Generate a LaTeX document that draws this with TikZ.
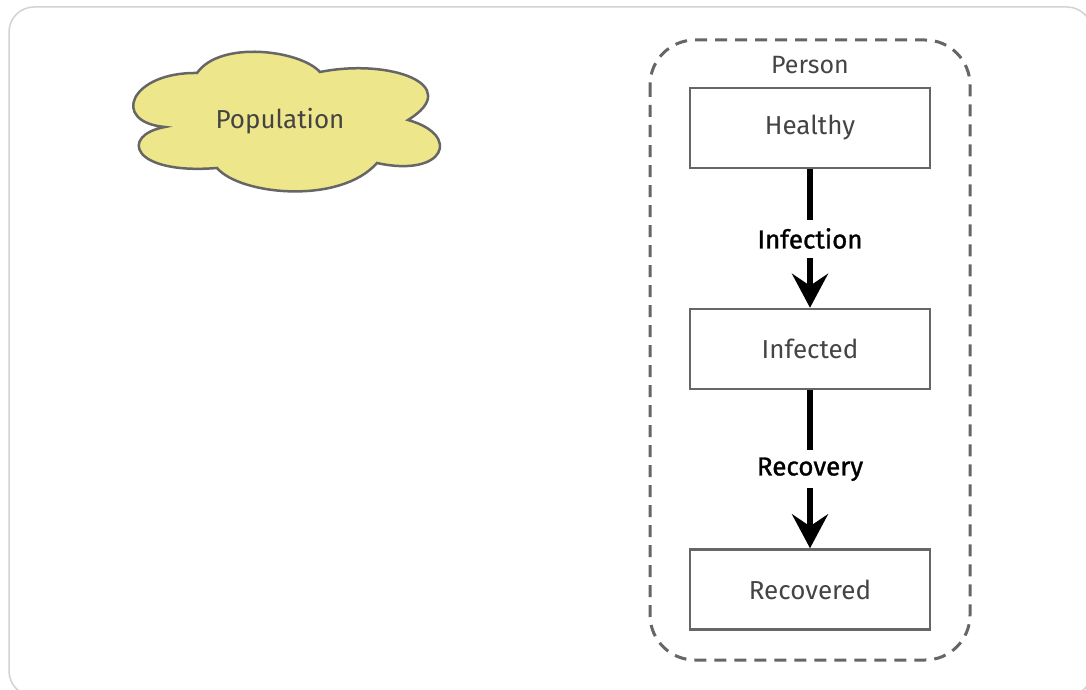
\documentclass[tikz,border=0pt]{standalone}
\usepackage{fontspec}
\setmainfont{Fira Sans}
\newfontfamily\lblfont[FakeBold=1.2]{Fira Sans}
\usetikzlibrary{arrows.meta}
\definecolor{cloudfill}{HTML}{EEE68A}
\definecolor{edgegray}{HTML}{666666}
\definecolor{textgray}{HTML}{444444}
\definecolor{framegray}{HTML}{D2D2D2}
\tikzset{
  statebox/.style={draw=edgegray, line width=2.5pt, fill=white, minimum width=240pt, minimum height=80pt, inner sep=0pt, text=textgray, font=\fontsize{26}{30}\selectfont},
  flow/.style={line width=6pt, -{Stealth[length=34pt,width=36pt,inset=12pt]}},
  flowlabel/.style={fill=white, text=black, font=\lblfont\fontsize{26}{30}\selectfont, inner sep=2pt, minimum height=38pt},
}
\begin{document}
\begin{tikzpicture}[x=1pt,y=-1pt]
\useasboundingbox (0,0) rectangle (1086,690);
% outer frame
\draw[framegray, line width=1.5pt, rounded corners=25pt] (9,7) rectangle (1092,696);
% cloud
\draw[edgegray, fill=cloudfill, line width=2.5pt]
  (165,127) .. controls (110,122) and (130,72) .. (197,73)
  .. controls (220,40) and (300,50) .. (320,72)
  .. controls (390,58) and (465,85) .. (408,120)
  .. controls (462,135) and (445,178) .. (377,163)
  .. controls (340,205) and (240,195) .. (217,168)
  .. controls (130,175) and (120,135) .. (165,127) -- cycle;
\node[text=textgray, font=\fontsize{26}{30}\selectfont] (pop) at (280,121) {Population};
% container
\draw[edgegray, line width=3pt, dash pattern=on 12pt off 8pt, rounded corners=45pt] (650,40) rectangle (970,660);
\node[text=textgray, font=\fontsize{25}{29}\selectfont] (person) at (810,65) {Person};
% states
\node[statebox] (healthy) at (810,128) {Healthy};
\node[statebox] (infected) at (810,349) {Infected};
\node[statebox] (recovered) at (810,589.5) {Recovered};
% flows
\draw[flow] (healthy.south) -- (infected.north) node[flowlabel, pos=0.5] (infection) {Infection};
\draw[flow] (infected.south) -- (recovered.north) node[flowlabel, pos=0.5] (recovery) {Recovery};
\end{tikzpicture}
\end{document}
